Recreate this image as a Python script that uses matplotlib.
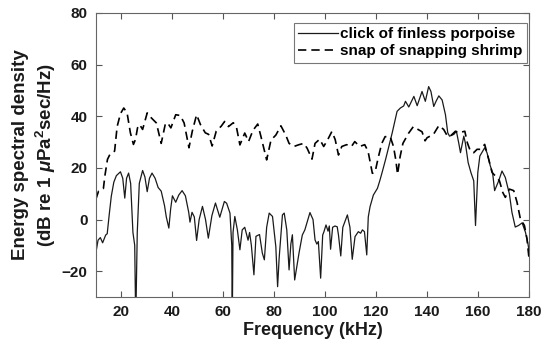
import matplotlib
matplotlib.use("Agg")
import matplotlib.pyplot as plt

plt.rcParams['font.family'] = ['Liberation Sans', 'DejaVu Sans']
plt.rcParams['mathtext.fontset'] = 'custom'
plt.rcParams['mathtext.rm'] = 'Liberation Sans:bold'
plt.rcParams['mathtext.it'] = 'Liberation Sans:italic:bold'
plt.rcParams['mathtext.bf'] = 'Liberation Sans:bold'

# ---- data ----
freq_click = [10, 10.8, 11.7, 12.6, 13.8, 14.4, 15.2, 16, 17, 18, 19.6, 20.5, 21.3, 22, 22.8,
              23.6, 24.5, 25.2, 25.6, 26.2, 27, 28.3, 29.2, 30.1, 31, 32, 33.2, 34.4, 35.6,
              36.9, 37.6, 38.6, 39.3, 40, 41.3, 42.5, 43.8, 45.1, 46.4, 46.9, 47.7, 48.6, 49.5,
              50.5, 51.8, 53, 54.1, 55.5, 56.9, 58.6, 60.4, 61.3, 62.6, 63.3, 63.5, 63.8, 64.5,
              65.5, 66.5, 67.4, 68.4, 69.7, 70.3, 71, 72, 72.8, 74.2, 75.3, 76.1, 77, 78, 79.3,
              80.6, 81.3, 81.9, 83.2, 83.9, 84.9, 85.8, 86.5, 87.1, 88, 89.7, 91, 92, 94, 95.2,
              96, 96.7, 97.3, 98.2, 99, 99.5, 100.3, 101.1, 101.6, 102.1, 102.9, 103.8, 104.7,
              105.2, 106.1, 106.9, 108.7, 109.7, 110.6, 111.7, 113, 113.9, 114.6, 115.4, 116.3,
              116.9, 117.6, 118.9, 120.5, 121.5, 122.4, 123.7, 125, 126.3, 127.4, 128.2, 129.5,
              130.8, 131.5, 132.8, 134.8, 136.1, 138, 139.3, 140.6, 141.5, 142.6, 143.5, 144.6,
              145.9, 147.2, 148.1, 148.8, 150.5, 151.5, 152.4, 153.1, 154.4, 155, 156.1, 157.2,
              158.3, 159, 159.9, 160.7, 162.6, 163.5, 164.8, 165.7, 166.5, 168.1, 169.4, 170.7,
              172.3, 173.3, 174.6, 175.9, 177.3, 178.6, 179.6, 180]
level_click = [-12.6, -8, -7, -9, -6, -5.5, 2, 9, 14.5, 17, 18.5, 16, 8.3, 16, 18,
               14, -5, -10, -40, -5, 14, 19, 16.5, 10.8, 16, 18, 16, 12.4, 11,
               5.4, 1, -3.3, 4, 9.2, 6.7, 9.5, 11.2, 9.2, 2.8, -1, 2.8, 1, -8.1,
               0, 5.1, 0, -7.2, 1.5, 6.4, 0.9, 7, 6.3, 2.5, -10, -40, -5, 1.2,
               -4, -11.7, -4, -3, -8, -5, -10, -21.4, -6.5, -5.8, -13, -15.6, -3, 2.5, 1.2,
               -10.5, -26, -15, 1.8, 2.5, -4, -19.5, -9.5, -5.9, -23.4, -13, -6, -4, 2.7, 0,
               -7.9, -9.5, -8.5, -22.7, -6, -4.7, -2.1, -4.5, -2.5, -11.5, -3, -2.5, -2.8,
               -6, -14.1, -3, 1.8, -3, -15.4, -6.6, -4.7, -5.3, -4, -4.7, -13.7,
               1, 5, 9.5, 12.1, 15.3, 18.5, 23.3, 28.5, 33.6, 38.5, 41.9, 43.2,
               44, 45.8, 43.6, 47.7, 44.1, 49.6, 45.8, 51.5, 49.6, 43.8, 45.8, 47.9,
               46.3, 40.6, 33.6, 32.3, 33, 34.2, 29.7, 25.9, 32.3, 29.7, 22.1, 18.2,
               15, -2.3, 18.2, 24.6, 27.8, 25.9, 20.8, 18.2, 11.2, 15, 18.8, 16.3,
               9.9, 2.8, -2.9, -2.3, -1.3, -4.9, -9.4, -12]

freq_snap = [10, 11, 12, 12.9, 13.5, 14.5, 15.5, 17.3, 18.3, 19.6, 20.9, 22.2, 23.5, 24.7,
             25.5, 26.3, 27.1, 28.3, 30.1, 31.7, 33.7, 35.6, 37.3, 38.4, 39.4, 41.3, 43.1,
             44.6, 46.5, 47.8, 49.5, 51, 52.9, 54.2, 55.6, 57.2, 59.2, 60.5, 62, 63.9, 65.2,
             66.5, 68.4, 69.9, 71.6, 73.5, 74.8, 77, 78.7, 80.6, 82.6, 84.5, 85.8, 87.7, 89.7,
             91.6, 92.9, 94.8, 96, 97.8, 99.4, 101, 102.6, 103.9, 105.2, 106.5, 108.4, 110.3,
             111.6, 113.5, 115.5, 116.8, 118.5, 119.6, 120.9, 122.2, 123.5, 125.5, 126.8,
             127.7, 128.4, 129.4, 130.5, 132.7, 134.6, 136.6, 138, 139.2, 140, 142.5, 144.6,
             146.5, 147.8, 149.1, 151.1, 152.4, 154.8, 155.8, 157, 158.3, 159.6, 160.9, 162.6,
             164.2, 165.5, 166.8, 168.4, 169.7, 170.7, 172.3, 174, 175.3, 176.6, 178.2, 179.2, 180]
level_snap = [8, 11, 11.5, 12, 17, 23.3, 25.3, 26.5, 36, 41, 43.2, 41.3, 33.6, 29.1,
              31, 35.5, 36.8, 34.9, 41.3, 39.4, 37.4, 29.5, 37.4, 37, 35.5, 40.6, 40.3,
              37.4, 27.8, 34.2, 40.6, 36.8, 33.6, 33, 28.5, 34.2, 36.2, 38, 36, 37.5, 35.5,
              28.9, 33.5, 30.2, 34.5, 37, 32, 23.1, 30.8, 32.7, 36.3, 32.7, 29.5, 28.3, 29,
              29.5, 27.6, 23.4, 29.5, 31.1, 28.3, 31, 34.1, 31, 25, 28.3, 29, 28.3,
              30.2, 28.3, 29, 26.5, 17.9, 18.5, 24.4, 29.5, 32.1, 32.1, 28.3,
              23.1, 17.5, 24.4, 29.5, 33.4, 36, 34.8, 34, 30.5, 31.7, 33, 36.4,
              34.9, 32.6, 32.3, 34.2, 33.6, 34.2, 29.7, 26.5, 25.9, 27.2, 27.2, 29.1,
              23.3, 18.2, 16.9, 15, 10.5, 8.6, 11.8, 11.2, 6.7, 0.3, -2.3, -7.4, -15]

series_labels = ['click of finless porpoise', 'snap of snapping shrimp']
x_ticks = [20, 40, 60, 80, 100, 120, 140, 160, 180]
y_ticks = [-20, 0, 20, 40, 60, 80]

fig = plt.figure(figsize=(5.45, 3.5), dpi=100)
ax = fig.add_axes([96/545, 1-297/350, 433/545, 284/350])

ax.plot(freq_click, level_click, color='#1a1a1a', lw=0.9, label=series_labels[0])
ax.plot(freq_snap, level_snap, color='black', lw=1.2, linestyle=(0, (5, 3)),
        label=series_labels[1])

ax.set_xlim(10, 180)
ax.set_ylim(-30, 80)
ax.set_xticks(x_ticks)
ax.set_yticks(y_ticks)
ax.tick_params(direction='in', top=True, right=True, length=4, width=0.8,
               color='#555555', labelsize=11, pad=6)
for lab in ax.get_xticklabels() + ax.get_yticklabels():
    lab.set_fontweight('bold')
    lab.set_color('#1a1a1a')
for s in ax.spines.values():
    s.set_color('#666666')
    s.set_linewidth(0.8)

ax.set_xlabel('Frequency (kHz)', fontsize=13, fontweight='bold', color='#1a1a1a', labelpad=2)
ax.set_ylabel('Energy spectral density\n(dB re 1 $\\mu$Pa$^2$sec/Hz)', fontsize=13.5,
              fontweight='bold', color='#1a1a1a', labelpad=3, linespacing=1.25)

leg = ax.legend(loc='upper right', bbox_to_anchor=(0.996, 0.966), fontsize=11,
                frameon=True, fancybox=False, handlelength=2.6, handletextpad=0.15,
                borderpad=0.3, labelspacing=0.2, borderaxespad=0.0)
leg.get_frame().set_edgecolor('#555555')
leg.get_frame().set_linewidth(0.8)
for t in leg.get_texts():
    t.set_fontweight('bold')

fig.savefig('out.png', dpi=100)
